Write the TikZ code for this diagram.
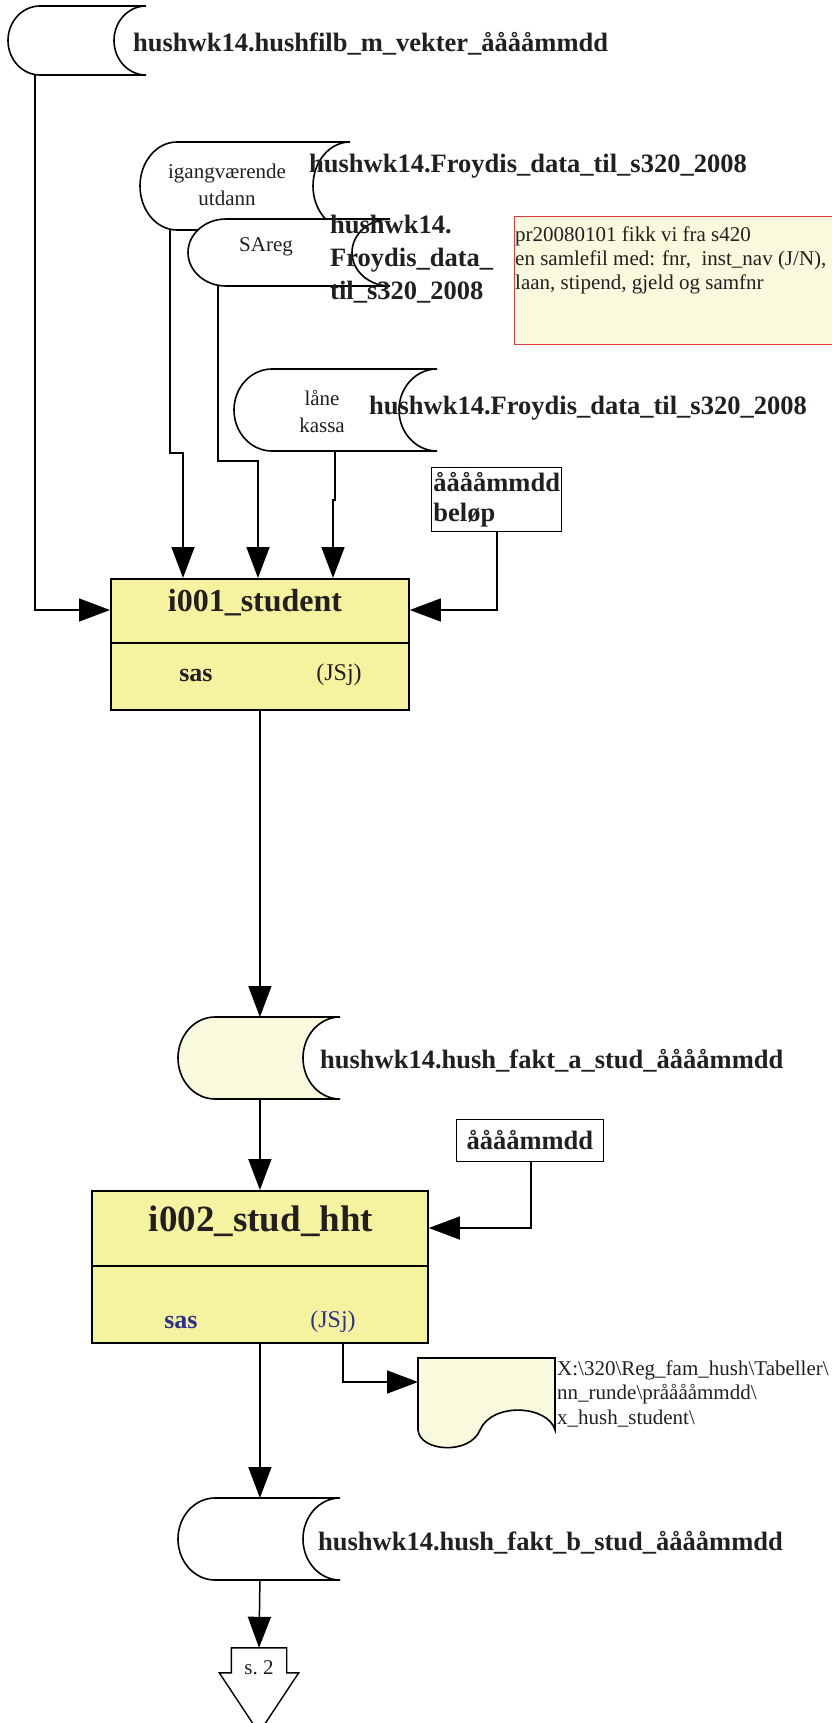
\documentclass[tikz,border=0pt]{standalone}
\usepackage{fontspec}
\setmainfont{Liberation Serif}
\usetikzlibrary{arrows.meta,calc}
\definecolor{ink}{HTML}{231F20}
\definecolor{procfill}{RGB}{245,242,160}
\definecolor{lightfill}{RGB}{249,249,222}
\definecolor{notered}{RGB}{222,60,60}
\definecolor{navy}{RGB}{46,49,140}
\newcommand\storeddata[7]{%
  \draw[shapeline, fill=#7] ({#2+#6},{-#3}) -- ({#4},{-#3})
     arc[start angle=90, end angle=270, x radius=#6pt, y radius={(#5-#3)/2*1pt}]
     -- ({#2+#6},{-#5})
     arc[start angle=270, end angle=90, x radius=#6pt, y radius={(#5-#3)/2*1pt}]
     -- cycle;
  \node[inner sep=0, outer sep=0, minimum width={(#4-#2)*1pt}, minimum height={(#5-#3)*1pt}] (#1) at ({(#2+#4)/2},{-(#3+#5)/2}) {};
}
\tikzset{
  shapeline/.style={draw=black, line width=1.6pt},
  conn/.style={draw=black, line width=1.5pt, -{Triangle[length=31pt,width=23pt]}},
  lbl/.style={font=\fontsize{26.5}{33}\selectfont\bfseries, text=ink, anchor=west, inner sep=0, align=left},
  smalltxt/.style={font=\fontsize{21}{27}\selectfont, text=ink, align=center, inner sep=0},
  proc/.style={draw=black, line width=1.8pt, fill=procfill, inner sep=0, anchor=north west},
  thinbox/.style={draw=black, line width=0.8pt, fill=white, anchor=north west, font=\fontsize{26.5}{30}\selectfont\bfseries, text=ink},
}
\begin{document}
\begin{tikzpicture}[x=1pt,y=1pt]
\useasboundingbox (0,0) rectangle (831,-1723);
\fill[white] (0,0) rectangle (831,-1723);

% A
\storeddata{sA}{8}{6}{146}{75}{32}{white}
\node[lbl] (lA) at (133,-44) {hushwk14.hushfilb\_m\_vekter\_ååååmmdd};

% B
\storeddata{sB}{140}{142}{350}{230}{37}{white}
\node[smalltxt] (tB) at (227,-185) {igangværende\\utdann};
\node[lbl] (lB) at (309,-166) {hushwk14.Froydis\_data\_til\_s320\_2008};

% C
\storeddata{sC}{188}{219}{390}{286}{38}{white}
\node[smalltxt] (tC) at (266,-247) {SAreg};
\node[lbl] (lC) at (330,-259) {hushwk14.\\Froydis\_data\_\\til\_s320\_2008};

% D
\storeddata{sD}{234}{369}{437}{451}{38}{white}
\node[smalltxt] (tD) at (322,-411) {låne\\kassa};
\node[lbl] (lD) at (369,-408) {hushwk14.Froydis\_data\_til\_s320\_2008};

% E
\node[thinbox, minimum width=130pt, minimum height=64pt, inner sep=2pt, text width=126pt, align=left] (e1) at (431,-467) {ååååmmdd\\beløp};

% note
\node[draw=notered, fill=lightfill, line width=1pt, anchor=north west, minimum width=330pt, minimum height=128pt, inner sep=0] (note) at (514,-216) {};
\node[font=\fontsize{21}{24}\selectfont, text=ink, align=left, anchor=north west, inner sep=0] (noteT) at (515,-227) {pr20080101 fikk vi fra s420\\en samlefil med: fnr,\ \ inst\_nav (J/N),\\laan, stipend, gjeld og samfnr};

% i001
\node[proc, minimum width=298pt, minimum height=131pt] (p1) at (110,-578) {};
\draw[line width=1.6pt] ([yshift=-65pt]p1.north west) -- ([yshift=-65pt]p1.north east);
\node[font=\fontsize{32}{36}\selectfont\bfseries, text=ink] (p1t) at (255,-603) {i001\_student};
\node[font=\fontsize{26}{30}\selectfont\bfseries, text=ink] (p1s) at (196,-675) {sas};
\node[font=\fontsize{24}{28}\selectfont, text=ink] (p1j) at (339,-675) {(JSj)};

% connectors into i001
\draw[conn] ([xshift=27pt]sA.south west) |- ([yshift=-32pt]p1.north west);
\draw[conn] ([xshift=30pt]sB.south west) -- ++(0,-223) -| ([xshift=73pt]p1.north west);
\draw[conn] ([xshift=30pt]sC.south west) -- ++(0,-175) -| ([xshift=148pt]p1.north west);
\draw[conn] ([xshift=101pt]sD.south west) -- ++(0,-49) -| ([xshift=223pt]p1.north west);
\draw[conn] ([xshift=66pt]e1.south west) |- ([yshift=-32pt]p1.north east);

% G
\storeddata{sG}{178}{1017}{340}{1099}{37}{lightfill}
\node[lbl] (lG) at (320,-1061) {hushwk14.hush\_fakt\_a\_stud\_ååååmmdd};
\draw[conn] (p1.south) -- (p1.south |- sG.north);

% H
\node[thinbox, minimum width=147pt, minimum height=42pt, inner sep=0] (h1) at (456,-1119) {ååååmmdd};

% i002
\node[proc, minimum width=336pt, minimum height=152pt] (p2) at (91,-1190) {};
\draw[line width=1.6pt] ([yshift=-76pt]p2.north west) -- ([yshift=-76pt]p2.north east);
\node[font=\fontsize{37}{40}\selectfont\bfseries, text=ink] (p2t) at (261,-1221) {i002\_stud\_hht};
\node[font=\fontsize{26}{30}\selectfont\bfseries, text=navy] (p2s) at (181,-1322) {sas};
\node[font=\fontsize{24}{28}\selectfont, text=navy] (p2j) at (333,-1322) {(JSj)};
\draw[conn] (p2.north |- sG.south) -- (p2.north);
\draw[conn] ([xshift=75pt]h1.south west) |- ([yshift=-38pt]p2.north east);

% document
\draw[shapeline, fill=lightfill] (418,-1430) -- (418,-1358) -- (555,-1358) -- (555,-1430)
  .. controls (548,-1405) and (492,-1402) .. (480,-1430)
  .. controls (470,-1455) and (420,-1452) .. (418,-1430) -- cycle;
\node[inner sep=0, minimum width=137pt, minimum height=72pt, anchor=north west] (doc) at (418,-1358) {};
\node[font=\fontsize{21}{24.5}\selectfont, text=ink, align=left, anchor=north west, inner sep=0] (docT) at (557,-1360) {X:\textbackslash 320\textbackslash Reg\_fam\_hush\textbackslash Tabeller\textbackslash\\nn\_runde\textbackslash prååååmmdd\textbackslash\\x\_hush\_student\textbackslash};
\draw[conn] ([xshift=252pt]p2.south west) |- ([yshift=-24pt]doc.north west);

% I
\storeddata{sI}{178}{1498}{340}{1580}{37}{white}
\node[lbl] (lI) at (318,-1543) {hushwk14.hush\_fakt\_b\_stud\_ååååmmdd};
\draw[conn] (p2.south) -- (p2.south |- sI.north);

% off-page connector
\node[font=\fontsize{21}{24}\selectfont, text=ink, inner sep=0, minimum width=55pt, minimum height=40pt] (off) at (259,-1668) {s.\ 2};
\draw[shapeline, line width=1.4pt] ([yshift=-25pt]off.north west) -- (off.north west) -- (off.north east) -- ([yshift=-25pt]off.north east) -- ++(12,0) -- ([yshift=-85pt]off.north) -- ([shift={(-12pt,-25pt)}]off.north west) -- cycle;
\draw[conn] (p2.south |- sI.south) -- (off.north);
\end{tikzpicture}
\end{document}
